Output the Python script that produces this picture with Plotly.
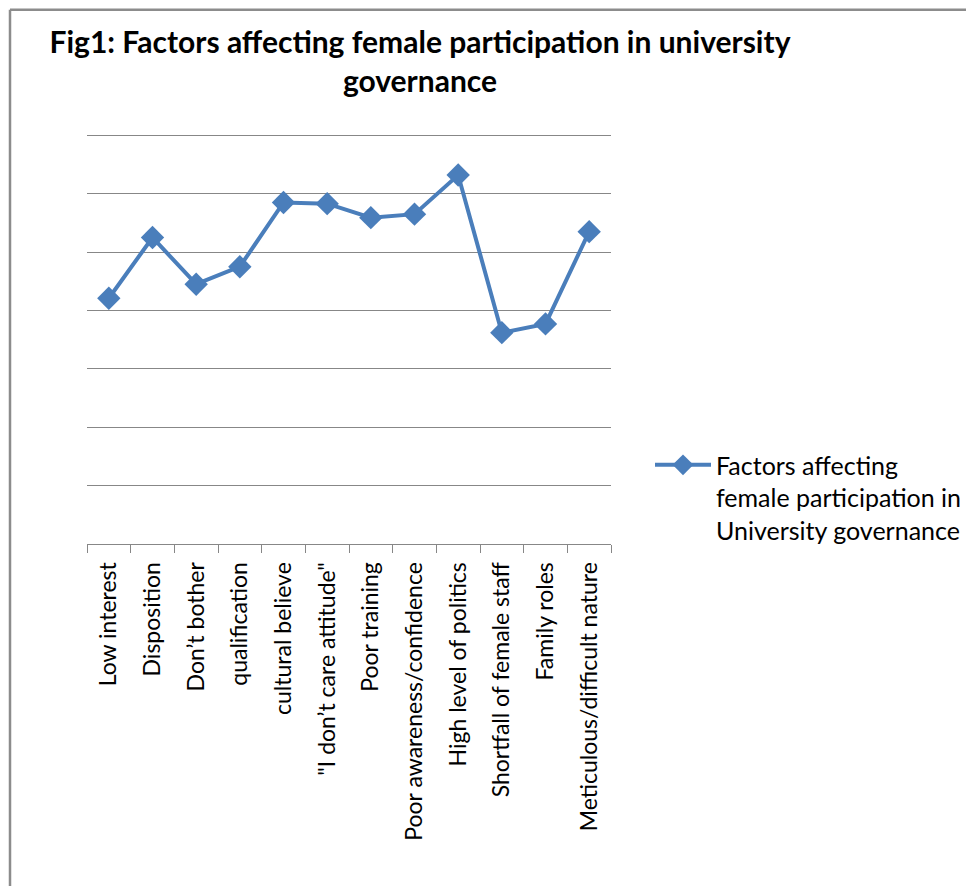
import plotly.graph_objects as go

categories = [
    "Low interest", "Disposition", "Don’t bother", "qualification",
    "cultural believe", "\"I don’t care attitude\"", "Poor training",
    "Poor awareness/confidence", "High level of politics",
    "Shortfall of female staff", "Family roles", "Meticulous/difficult nature",
]
values = [4.21, 5.25, 4.45, 4.75, 5.85, 5.83, 5.59, 5.65, 6.32, 3.62, 3.77, 5.35]
series_name = "Factors affecting<br>female participation in<br>University governance"
title_text = "Fig1: Factors affecting female participation in university<br>governance"

# page body has an 8px margin: the figure starts at (8, 8) in the window
OFF = 8
W, H = 974 - OFF, 886 - OFF
YMAX = 7.04
PLOT_W = 524
PLOT_H = 409 * YMAX / 7
L = 87 - OFF
T = 544 - OFF - PLOT_H
R = W - L - PLOT_W
B = H - T - PLOT_H
FONT = "Lato, 'Open Sans', sans-serif"
BLUE = "#4a7ebb"
GRID = "#878787"

def px_x(x):  # window pixel -> paper fraction
    return (x - OFF - L) / PLOT_W

def px_y(y):
    return (H - B - (y - OFF)) / PLOT_H

fig = go.Figure()
fig.add_trace(go.Scatter(
    x=categories, y=values, name=series_name, mode="lines+markers",
    line=dict(color=BLUE, width=4),
    marker=dict(symbol="diamond", size=18, color=BLUE),
    showlegend=True,
))

fig.update_layout(
    width=W, height=H,
    margin=dict(l=L, r=R, t=T, b=B, pad=0, autoexpand=False),
    paper_bgcolor="white", plot_bgcolor="white",
    font=dict(family=FONT, color="#000000"),
    title=dict(text=title_text, x=(420 - OFF) / W, xanchor="center", xref="container",
               y=1 - (53 - OFF) / H, yanchor="top", yref="container",
               font=dict(family=FONT, size=30, color="#000000", weight="bold")),
    xaxis=dict(type="category", range=[-0.5, len(categories) - 0.5],
               showgrid=False, showline=True, linecolor=GRID, linewidth=1,
               ticks="outside", tickson="boundaries", ticklen=8, tickcolor=GRID, tickwidth=1,
               tickangle=-90, tickfont=dict(size=23, family=FONT, color="#000000"),
               ticklabelstandoff=8, zeroline=False, automargin=False),
    yaxis=dict(range=[0, YMAX], tickmode="linear", tick0=0, dtick=1, showgrid=True,
               gridcolor=GRID, gridwidth=1, automargin=False,
               showticklabels=False, showline=False, zeroline=False, ticks=""),
    showlegend=True,
    legend=dict(x=px_x(650), y=px_y(442), xanchor="left", yanchor="top",
                valign="top", itemwidth=56,
                font=dict(size=25, family=FONT, color="#000000"),
                bgcolor="rgba(0,0,0,0)"),
    shapes=[
        dict(type="line", xref="paper", yref="paper", x0=px_x(10), x1=px_x(980),
             y0=px_y(9.3), y1=px_y(9.3), line=dict(color="#8c8c8c", width=2.5)),
        dict(type="line", xref="paper", yref="paper", x0=px_x(10), x1=px_x(10),
             y0=px_y(9.3), y1=px_y(890), line=dict(color="#8c8c8c", width=2.5)),
    ],
)

fig.write_html("out.html")
